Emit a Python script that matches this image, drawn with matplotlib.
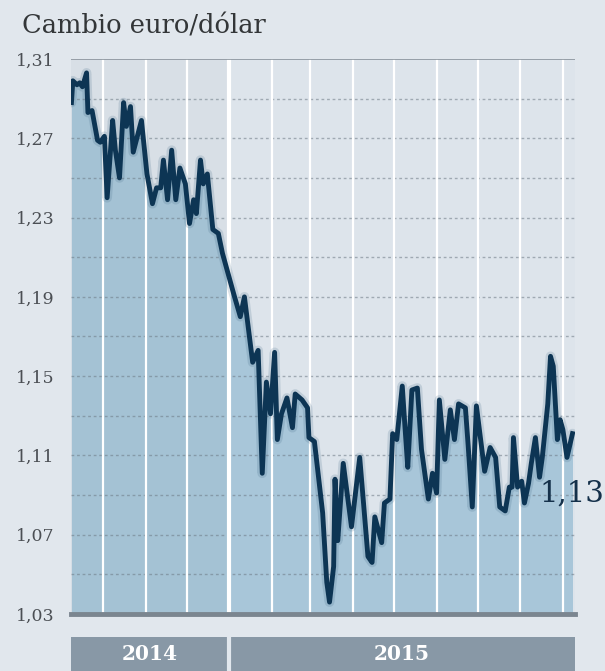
import matplotlib
matplotlib.use("Agg")
import matplotlib.pyplot as plt
import numpy as np
import pandas as pd

# EUR/USD
dates = [
    "2014-09-08", "2014-09-09", "2014-09-12", "2014-09-14", "2014-09-16",
    "2014-09-19", "2014-09-20", "2014-09-23", "2014-09-27", "2014-09-29",
    "2014-10-02", "2014-10-04", "2014-10-08", "2014-10-10", "2014-10-13",
    "2014-10-16", "2014-10-18", "2014-10-21", "2014-10-23", "2014-10-29",
    "2014-11-02", "2014-11-06", "2014-11-09", "2014-11-12", "2014-11-14",
    "2014-11-17", "2014-11-20", "2014-11-23", "2014-11-26", "2014-11-30",
    "2014-12-03", "2014-12-06", "2014-12-08", "2014-12-11", "2014-12-13",
    "2014-12-16", "2014-12-20", "2014-12-24", "2014-12-27",
    "2015-01-04", "2015-01-09", "2015-01-12", "2015-01-16", "2015-01-18",
    "2015-01-22", "2015-01-25", "2015-01-28", "2015-01-31",
    "2015-02-03", "2015-02-05", "2015-02-08", "2015-02-12", "2015-02-16",
    "2015-02-18", "2015-02-23", "2015-02-27", "2015-02-28",
    "2015-03-04", "2015-03-10", "2015-03-13", "2015-03-15", "2015-03-18",
    "2015-03-19", "2015-03-21", "2015-03-25", "2015-03-31",
    "2015-04-06", "2015-04-12", "2015-04-15", "2015-04-17", "2015-04-22",
    "2015-04-24", "2015-04-28", "2015-04-30",
    "2015-05-03", "2015-05-07", "2015-05-09", "2015-05-11", "2015-05-14",
    "2015-05-18", "2015-05-21", "2015-05-26", "2015-05-29",
    "2015-06-01", "2015-06-03", "2015-06-07", "2015-06-11", "2015-06-14",
    "2015-06-17", "2015-06-22", "2015-06-24", "2015-06-27", "2015-06-30",
    "2015-07-06", "2015-07-10", "2015-07-14", "2015-07-17", "2015-07-21",
    "2015-07-24", "2015-07-26", "2015-07-27", "2015-07-30",
    "2015-08-02", "2015-08-04", "2015-08-07", "2015-08-09", "2015-08-12",
    "2015-08-15", "2015-08-17", "2015-08-21", "2015-08-23", "2015-08-25",
    "2015-08-28", "2015-08-30",
    "2015-09-01", "2015-09-04", "2015-09-08",
]
values = [
    1.288, 1.299, 1.297, 1.298, 1.296, 1.303, 1.283, 1.284, 1.269, 1.268,
    1.271, 1.240, 1.279, 1.264, 1.250, 1.288, 1.276, 1.286, 1.263, 1.279,
    1.252, 1.237, 1.245, 1.245, 1.259, 1.239, 1.264, 1.239, 1.255, 1.247,
    1.227, 1.239, 1.232, 1.259, 1.247, 1.252, 1.224, 1.222, 1.212,
    1.192, 1.180, 1.190, 1.168, 1.157, 1.163, 1.101, 1.147, 1.131,
    1.162, 1.118, 1.131, 1.139, 1.124, 1.141, 1.138, 1.134, 1.119,
    1.117, 1.081, 1.046, 1.036, 1.054, 1.098, 1.067, 1.106, 1.074,
    1.109, 1.059, 1.056, 1.079, 1.066, 1.086, 1.088, 1.121,
    1.118, 1.145, 1.124, 1.104, 1.143, 1.144, 1.113, 1.088, 1.101,
    1.091, 1.138, 1.108, 1.133, 1.118, 1.136, 1.134, 1.115, 1.084, 1.135,
    1.102, 1.114, 1.109, 1.084, 1.082, 1.094, 1.094, 1.119, 1.094,
    1.097, 1.086, 1.096, 1.106, 1.119, 1.099, 1.109, 1.136, 1.160, 1.155,
    1.118, 1.128,
    1.123, 1.109, 1.121,
]

y_ticks = [1.03, 1.07, 1.11, 1.15, 1.19, 1.23, 1.27, 1.31]
years = ["2014", "2015"]
last_label = "1,13"

x = pd.to_datetime(dates)
y = np.array(values)

x_start = pd.Timestamp("2014-09-07 16:00")
x_end = pd.Timestamp("2015-09-09 20:00")
year_split = pd.Timestamp("2015-01-01")

bg = "#e1e7ed"
serif = "DejaVu Serif"

fig = plt.figure(figsize=(6.05, 6.71), dpi=100)
fig.patch.set_facecolor(bg)

ax = fig.add_axes([71 / 605, 1 - 614 / 671, 504 / 605, 555 / 671])
ax.set_facecolor("#dde4eb")
ax.set_xlim(x_start, x_end)
ax.set_ylim(1.03, 1.31)

# area under the curve
ax.fill_between(x, y, 1.03, color="#a8c6d9", lw=0, zorder=1)
# 2014 part a touch darker
ax.axvspan(x_start, year_split, color="#000000", alpha=0.02, lw=0, zorder=1.5)

# dotted grid every 0.02
for g in np.arange(1.05, 1.30, 0.02):
    ax.axhline(g, color="#6c7984", lw=1, ls=(0, (2, 2)), alpha=0.55, zorder=2)

# month separators
for m in pd.date_range("2014-10-01", "2015-09-01", freq="MS"):
    ax.axvline(m, color="white", lw=3 if m == year_split else 1.6, zorder=2.5)

ax.axhline(1.31, color="#8a939c", lw=1.2, zorder=3)
ax.axhline(1.03, color="#7b8690", lw=3.5, zorder=5, clip_on=False)

# soft shadow + line
ax.plot(x, y, color="#3d6583", lw=7, alpha=0.18, solid_joinstyle="round",
        solid_capstyle="round", zorder=3.5)
ax.plot(x, y, color="#0d3554", lw=3.5, solid_joinstyle="round", zorder=4)

ax.text(pd.Timestamp("2015-08-15"), 1.091, last_label, family=serif, size=21,
        color="#14304a", ha="left", va="center", zorder=6, clip_on=False)

ax.set_yticks(y_ticks)
ax.set_yticklabels([f"{t:.2f}".replace(".", ",") for t in y_ticks],
                   family=serif, size=12.5, color="#4b4f54")
ax.tick_params(axis="y", length=0, pad=12)
ax.set_xticks([])
for s in ax.spines.values():
    s.set_visible(False)

fig.text(22 / 605, 1 - 33 / 671, "Cambio euro/dólar", family=serif, size=18.5,
         color="#333638", va="baseline", ha="left")

# year bar at the bottom
yb = fig.add_axes([71 / 605, 0, 504 / 605, 34 / 671])
yb.set_xlim(x_start, x_end)
yb.set_ylim(0, 1)
yb.axvspan(x_start, year_split, color="#8898a6", lw=0)
yb.axvspan(year_split, x_end, color="#8898a6", lw=0)
yb.axvline(year_split, color=bg, lw=3)
yb.text(x_start + (year_split - x_start) / 2, 0.5, years[0], family=serif,
        size=14.5, weight="bold", color="white", ha="center", va="center")
yb.text(year_split + (x_end - year_split) / 2, 0.5, years[1], family=serif,
        size=14.5, weight="bold", color="white", ha="center", va="center")
yb.axis("off")

fig.savefig("out.png", dpi=100, facecolor=bg)
